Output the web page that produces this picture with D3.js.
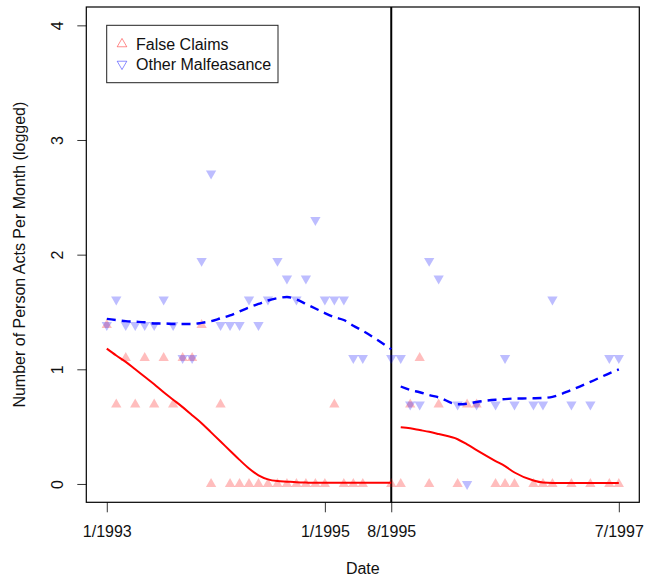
<!DOCTYPE html>
<html lang="en">
    <head>
        <meta charset="utf-8">
        <title>Person Acts Per Month</title>
        <script type="text/javascript" src="https://d3js.org/d3.v7.min.js"></script>
        <style>
          body { margin: 0; background: white; }
          text { font-family: "Liberation Sans", Arial, Helvetica, sans-serif; }
        </style>
    </head>
    <body>
        <script type="text/javascript">
            // month index (0 = 1/1993); months without data are left out
            const months = [0,1,2,3,4,5,6,7,8,9,10,11,12,13,14,15,16,17,18,19,20,21,22,23,24,25,26,27,30,
                            31,32,33,34,35,37,38,39,41,42,43,45,46,47,49,51,53,54]
            // raw monthly counts (plotted as log)
            const false_claims = [4,2,3,2,3,2,3,2,3,3,4,1,2,1,1,1,1,1,1,1,1,1,1,1,2,1,1,1,1,
                                  1,2,3,1,2,1,2,2,1,1,1,1,1,1,1,1,1,1]
            const other_malf = [4,5,4,4,4,4,5,4,3,3,7,15,4,4,4,5,4,5,7,6,5,6,10,5,5,5,3,3,3,
                                3,2,2,7,6,2,1,2,2,3,2,2,2,5,2,2,3,3]
            // smoothed fits
            const false_fit = [1.18,1.12,1.065,1.00,0.935,0.87,0.80,0.735,0.67,0.60,0.53,0.45,0.37,0.29,0.21,0.135,0.075,0.04,0.025,0.02,0.015,0.012,0.01,0.01,0.01,0.01,0.01,0.01,0.01,
                               0.495,0.485,0.47,0.455,0.435,0.39,0.345,0.295,0.20,0.155,0.10,0.03,0.012,0.008,0.008,0.008,0.008,0.008]
            const other_fit = [1.44,1.43,1.42,1.415,1.41,1.40,1.40,1.395,1.395,1.395,1.405,1.42,1.445,1.47,1.505,1.54,1.57,1.60,1.62,1.63,1.61,1.57,1.53,1.49,1.455,1.43,1.38,1.335,1.175,
                               0.85,0.82,0.80,0.775,0.755,0.695,0.70,0.715,0.735,0.74,0.745,0.747,0.75,0.76,0.82,0.89,0.965,1.00]
            const break_month = 30
            const tick_months = [0, 23, 30, 54]
            const tick_labels = ["1/1993", "1/1995", "8/1995", "7/1997"]
            const y_ticks = [0, 1, 2, 3, 4]

            const w = 645
            const h = 579
            const pl = 86.3, pr = 639.3, pt = 7, pb = 502.3
            const fs = 16

            const svg = d3.select("body").append("svg")
                          .attr("width", w)
                          .attr("height", h)

            const x = d3.scaleLinear().domain([-2.16, 56.16]).range([pl, pr])
            const y = d3.scaleLinear().domain([-0.16, 4.16]).range([pb, pt])

            const rows = months.map((m, i) => ({
                m: m,
                fc: Math.log(false_claims[i]),
                om: Math.log(other_malf[i]),
                fcFit: false_fit[i],
                omFit: other_fit[i],
                seg: m <= break_month ? 0 : 1
            }))

            // axes
            const xAxis = svg.append("g")
               .attr("transform", `translate(0,${pb})`)
               .call(d3.axisBottom(x).tickValues(tick_months)
                       .tickFormat((d, i) => tick_labels[i])
                       .tickSize(10).tickPadding(13))
            xAxis.select(".domain").remove()
            xAxis.selectAll("text").attr("font-size", fs).attr("fill", "#111")
                 .attr("font-family", "Liberation Sans, Arial, sans-serif")
            xAxis.selectAll("line").attr("stroke", "#333")

            const yAxis = svg.append("g")
               .attr("transform", `translate(${pl},0)`)
               .call(d3.axisLeft(y).tickValues(y_ticks).tickFormat(d3.format("d")).tickSize(9))
            yAxis.select(".domain").remove()
            yAxis.selectAll("line").attr("stroke", "#333")
            yAxis.selectAll("text")
                 .attr("font-size", fs).attr("fill", "#111")
                 .attr("font-family", "Liberation Sans, Arial, sans-serif")
                 .attr("text-anchor", "middle")
                 .attr("x", 0).attr("y", -23).attr("dy", 0)
                 .attr("transform", "rotate(-90)")

            // plot box
            svg.append("rect")
               .attr("x", pl).attr("y", pt)
               .attr("width", pr - pl).attr("height", pb - pt)
               .attr("fill", "none").attr("stroke", "black").attr("stroke-width", 1.2)

            // break line
            svg.append("line")
               .attr("x1", x(break_month)).attr("x2", x(break_month))
               .attr("y1", pt).attr("y2", pb)
               .attr("stroke", "black").attr("stroke-width", 2)

            const tri = d3.symbol(d3.symbolTriangle).size(46)

            svg.append("g").selectAll("path")
               .data(rows).enter().append("path")
               .attr("d", tri)
               .attr("transform", d => `translate(${x(d.m)},${y(d.fc)})`)
               .attr("fill", "red").attr("fill-opacity", 0.26)

            svg.append("g").selectAll("path")
               .data(rows).enter().append("path")
               .attr("d", tri)
               .attr("transform", d => `translate(${x(d.m)},${y(d.om)}) rotate(180)`)
               .attr("fill", "blue").attr("fill-opacity", 0.26)

            // smoothed lines, one per period
            const segs = [0, 1].map(s => rows.filter(d => d.seg === s))
            const fcLine = d3.line().x(d => x(d.m)).y(d => y(d.fcFit)).curve(d3.curveMonotoneX)
            const omLine = d3.line().x(d => x(d.m)).y(d => y(d.omFit)).curve(d3.curveMonotoneX)

            segs.forEach(seg => {
                svg.append("path").datum(seg)
                   .attr("d", fcLine)
                   .attr("fill", "none").attr("stroke", "red").attr("stroke-width", 2)
                svg.append("path").datum(seg)
                   .attr("d", omLine)
                   .attr("fill", "none").attr("stroke", "blue").attr("stroke-width", 2.4)
                   .attr("stroke-dasharray", "9,6")
            })

            // legend
            const legend = svg.append("g")
            legend.append("rect")
                  .attr("x", 106.7).attr("y", 25.3).attr("width", 171.3).attr("height", 57.4)
                  .attr("fill", "white").attr("stroke", "#222").attr("stroke-width", 1)
            const legTri = d3.symbol(d3.symbolTriangle).size(40)
            const legItems = [
                {label: "False Claims", color: "red", rot: 0},
                {label: "Other Malfeasance", color: "blue", rot: 180}
            ]
            legItems.forEach((it, i) => {
                legend.append("path")
                      .attr("d", legTri)
                      .attr("transform", `translate(122,${44 + i * 20}) rotate(${it.rot})`)
                      .attr("fill", "none").attr("stroke", it.color)
                      .attr("stroke-opacity", 0.45).attr("stroke-width", 1)
                legend.append("text")
                      .attr("x", 136).attr("y", 50 + i * 20)
                      .attr("font-size", fs).attr("fill", "#111")
                      .text(it.label)
            })

            // axis titles
            svg.append("text")
               .attr("x", (pl + pr) / 2).attr("y", 574)
               .attr("text-anchor", "middle").attr("font-size", fs).attr("fill", "#111")
               .text("Date")
            svg.append("text")
               .attr("transform", `translate(25,${(pt + pb) / 2}) rotate(-90)`)
               .attr("text-anchor", "middle").attr("font-size", fs).attr("fill", "#111")
               .text("Number of Person Acts Per Month (logged)")
        </script>
    </body>
</html>
